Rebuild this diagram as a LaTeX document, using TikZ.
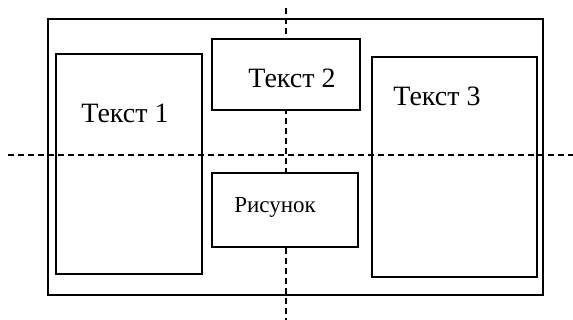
\documentclass[tikz,border=0pt]{standalone}
\usepackage{fontspec}
\setmainfont{Liberation Serif}
\tikzset{
  box/.style={draw, line width=1.3pt, rectangle, inner sep=0pt, outer sep=0pt, anchor=north west},
  axis/.style={line width=1.2pt, dash pattern=on 6pt off 4pt},
  lbl/.style={font=\fontsize{28}{32}\selectfont, inner sep=0pt}
}
\begin{document}
\begin{tikzpicture}[x=1pt,y=-1pt]
  \useasboundingbox (0,0) rectangle (573,320);
  % Axes
  \coordinate (hl) at (8,155);
  \coordinate (hr) at (573,155);
  \coordinate (vt) at (286,8);
  \coordinate (vb) at (286,320);
  \draw[axis] (hl) -- (hr);
  \draw[axis] (vt) -- (vb);
  % Page
  \node[box, minimum width=495pt, minimum height=276pt] (page) at (48,19) {};
  % Blocks
  \node[box, minimum width=146pt, minimum height=220pt] (tekst1) at (56,54) {};
  \node[box, fill=white, minimum width=148pt, minimum height=71pt] (tekst2) at (212,39) {};
  \node[box, minimum width=165pt, minimum height=220pt] (tekst3) at (372,57) {};
  \node[box, fill=white, minimum width=146pt, minimum height=74pt] (risunok) at (212,173) {};
  % Labels
  \node[lbl] (l1) at (125,113) {Текст 1};
  \node[lbl] (l2) at (292,78) {Текст 2};
  \node[lbl] (l3) at (437,96) {Текст 3};
  \node[lbl, font=\fontsize{23}{27}\selectfont] (l4) at (275,207) {Рисунок};
\end{tikzpicture}
\end{document}
